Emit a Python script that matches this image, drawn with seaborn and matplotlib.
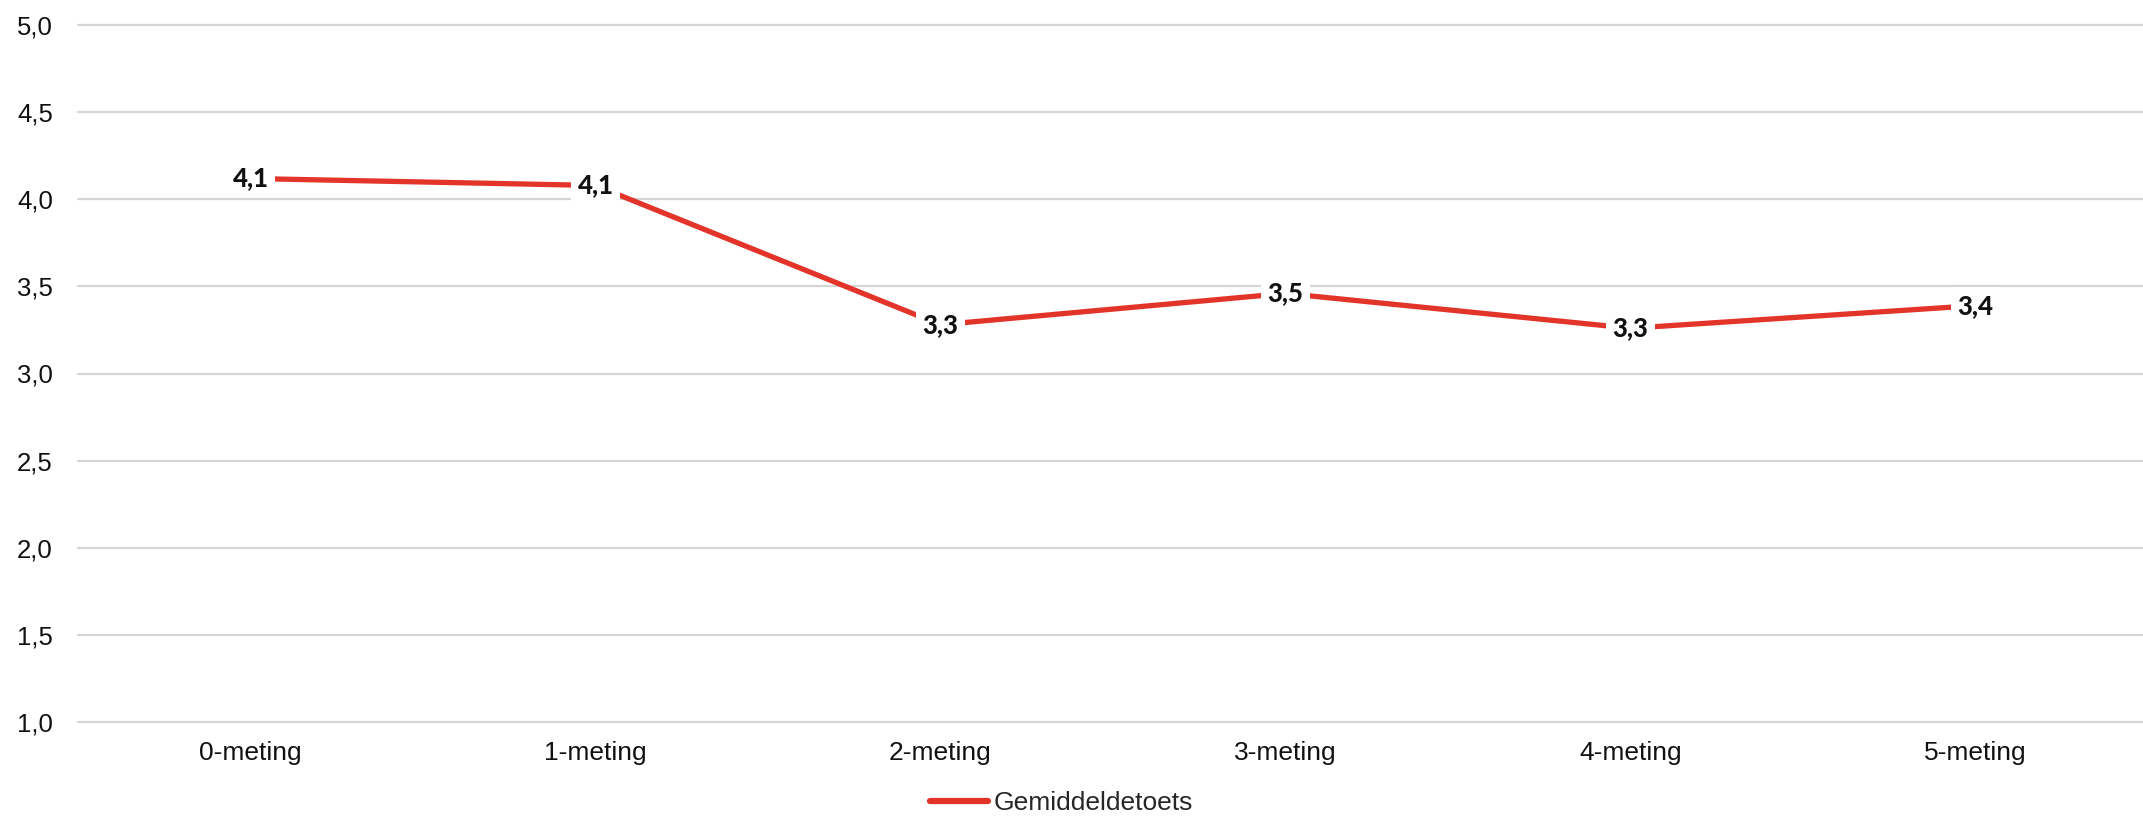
import matplotlib
matplotlib.use("Agg")
import matplotlib.pyplot as plt
import seaborn as sns
import pandas as pd

categories = ["0-meting", "1-meting", "2-meting", "3-meting", "4-meting", "5-meting"]
values = [4.12, 4.08, 3.28, 3.46, 3.26, 3.39]
labels = ["4,1", "4,1", "3,3", "3,5", "3,3", "3,4"]
series_name = "Gemiddeldetoets"
yticks = [1.0, 1.5, 2.0, 2.5, 3.0, 3.5, 4.0, 4.5, 5.0]
ytick_labels = ["1,0", "1,5", "2,0", "2,5", "3,0", "3,5", "4,0", "4,5", "5,0"]

sns.set_theme(style="white")
plt.rcParams["font.family"] = ["Liberation Sans", "DejaVu Sans"]

df = pd.DataFrame({"meting": categories, "score": values, "serie": series_name})

fig = plt.figure(figsize=(21.43, 8.16), dpi=100)
ax = fig.add_axes([78 / 2143, 1 - 721.7 / 816, 2070 / 2143, (721.7 - 25.3) / 816])

red = "#E3342A"
sns.lineplot(data=df, x="meting", y="score", hue="serie", palette=[red],
             sort=False, linewidth=3.8, ax=ax, legend=True)

ax.set_xlim(-0.5, 5.5)
ax.set_ylim(1.0, 5.0)
ax.set_yticks(yticks)
ax.set_yticklabels(ytick_labels)
ax.set_xlabel("")
ax.set_ylabel("")
ax.grid(False)
for y in yticks:
    ax.axhline(y, color="#D6D6D6", linewidth=1.6, zorder=0, clip_on=False)
for s in ax.spines.values():
    s.set_visible(False)
ax.tick_params(axis="y", length=0, pad=18, labelsize=18.5, labelcolor="#111111")
ax.tick_params(axis="x", length=0, pad=14, labelsize=19, labelcolor="#111111")

for i, (v, lab) in enumerate(zip(values, labels)):
    ax.text(i, v, lab, ha="center", va="center", fontsize=18.5,
            fontfamily=["Lato", "DejaVu Sans"], fontweight="black", color="#111111",
            bbox=dict(boxstyle="square,pad=0.25", facecolor="white", edgecolor="none"),
            zorder=5)

ax.legend_.remove()
handles, lbls = ax.get_legend_handles_labels()
for h in handles:
    h.set_linewidth(4.5)
fig.legend(handles, lbls, loc="center left",
           bbox_to_anchor=(930 / 2143, 1 - 803 / 816), bbox_transform=fig.transFigure,
           frameon=False, fontsize=19, handlelength=2.2, handletextpad=0.2,
           borderpad=0, borderaxespad=0)

fig.savefig("out.png", dpi=100, facecolor="white")
